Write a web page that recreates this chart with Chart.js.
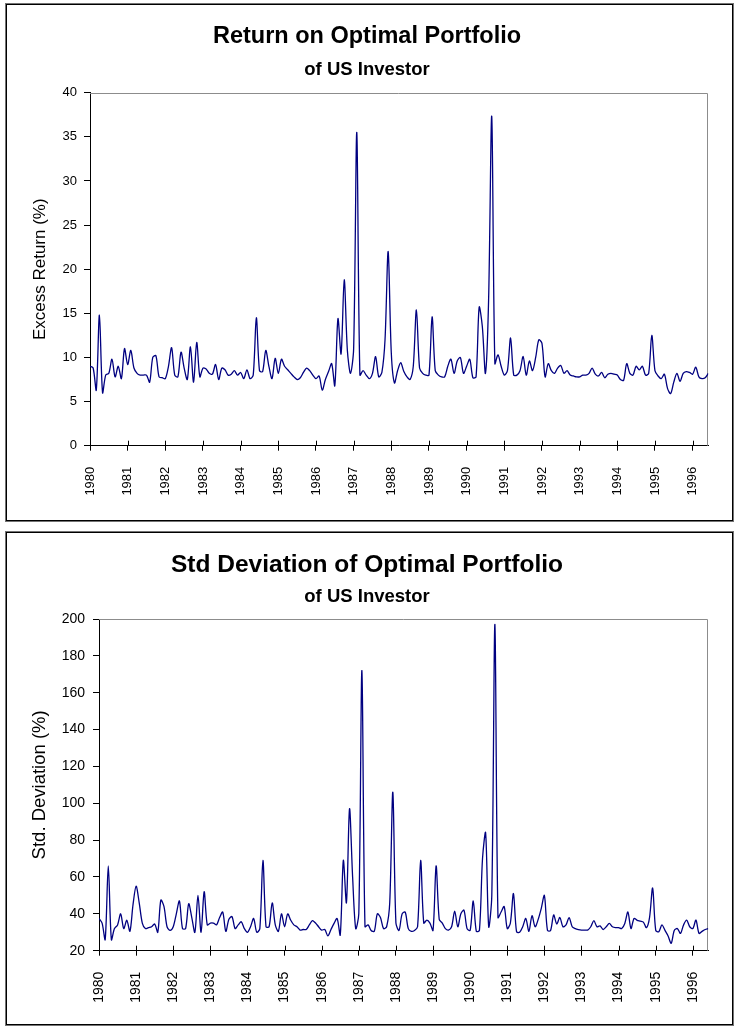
<!DOCTYPE html>
<html>
<head>
<meta charset="utf-8">
<script src="https://cdn.jsdelivr.net/npm/chart.js@4.4.1/dist/chart.umd.min.js"></script>
<style>
  html, body { margin: 0; padding: 0; background: #fff; }
  body { width: 736px; height: 1027px; position: relative; overflow: hidden; }
  .panel { position: absolute; left: 6px; width: 725px; border: 1px solid #000; box-shadow: 0 0 0 1px rgba(0,0,0,0.55); background: #fff; }
  #p1 { top: 4px; height: 515px; }
  #p2 { top: 532px; height: 491px; }
  canvas { display: block; }
</style>
</head>
<body>
<div class="panel" id="p1"><canvas id="c1" width="725" height="515"></canvas></div>
<div class="panel" id="p2"><canvas id="c2" width="725" height="491"></canvas></div>
<script>
// Monthly series, January 1980 onwards
const startYear = 1980;
const monthsPerYear = 12;

// Excess return of the optimal portfolio (%), one row per year
const excessReturn = [
  9.0, 8.8, 6.3, 14.8, 6.0, 8.0, 8.2, 9.8, 7.8, 9.0, 7.6, 11.0,      // 1980
  9.2, 10.8, 8.8, 8.2, 8.0, 8.0, 8.0, 7.2, 10.0, 10.2, 7.8, 7.7,     // 1981
  7.6, 9.0, 11.1, 8.0, 7.8, 10.6, 8.8, 7.5, 11.2, 7.2, 11.7, 7.8,    // 1982
  8.8, 8.7, 8.2, 8.1, 9.2, 7.5, 8.8, 8.6, 8.0, 8.1, 8.5, 8.0,        // 1983
  8.3, 7.6, 8.6, 7.6, 8.0, 14.5, 8.5, 8.4, 10.8, 9.0, 7.6, 9.9,      // 1984
  8.2, 9.8, 9.0, 8.6, 8.2, 7.8, 7.5, 7.7, 8.3, 8.8, 8.5, 8.0,        // 1985
  7.6, 7.9, 6.3, 7.5, 8.4, 9.3, 6.8, 14.4, 10.4, 18.8, 10.8, 8.2,    // 1986
  11.0, 35.5, 8.0, 8.5, 8.0, 7.6, 8.2, 10.1, 7.8, 8.3, 12.0, 22.0,   // 1987
  10.5, 7.1, 8.5, 9.4, 8.4, 7.8, 7.5, 9.0, 15.4, 8.8, 8.2, 8.0,      // 1988
  8.0, 14.6, 8.5, 8.0, 7.8, 7.8, 9.0, 9.8, 8.2, 9.6, 10.0, 8.2,      // 1989
  9.0, 9.8, 7.7, 7.8, 15.7, 13.5, 8.2, 16.5, 37.3, 9.3, 10.3, 9.0,   // 1990
  8.0, 8.5, 12.2, 8.0, 8.0, 8.5, 10.1, 8.0, 9.6, 8.5, 10.0, 12.0,    // 1991
  11.6, 7.8, 9.3, 8.5, 8.2, 8.8, 9.1, 8.2, 8.5, 8.0, 7.9, 7.8,       // 1992
  7.8, 8.0, 8.0, 8.2, 8.8, 8.1, 7.9, 8.3, 7.7, 8.1, 8.2, 8.1,        // 1993
  8.0, 7.5, 7.4, 9.3, 8.2, 8.0, 9.0, 8.6, 9.0, 8.0, 8.2, 12.5,       // 1994
  8.5, 7.9, 7.6, 8.1, 6.5, 5.9, 7.2, 8.2, 7.3, 8.2, 8.4, 8.3,        // 1995
  8.1, 8.9, 7.8, 7.6, 7.7, 8.2                                       // 1996
];

// Standard deviation of the optimal portfolio (%), one row per year
const stdDeviation = [
  37.5, 35, 26, 66, 26, 32, 34, 40, 32, 36.5, 30.5, 45,              // 1980
  55, 46, 35, 32, 32.5, 33, 34.5, 30, 47.5, 44, 33, 31,              // 1981
  33, 40, 47, 32, 32, 45.5, 38, 30, 50, 30, 52, 34,                  // 1982
  35, 35, 34, 38, 41, 30.5, 37, 38.5, 32, 34, 35.7, 32,              // 1983
  30, 33, 37.5, 30, 32, 69, 33, 33, 46, 34, 30.5, 40,                // 1984
  33, 40, 36.5, 34, 33, 31.2, 31.5, 31.5, 34, 36.3, 35, 33,          // 1985
  31.2, 31.5, 28, 31.5, 34.8, 37.5, 28.5, 69, 46, 97, 60, 32,        // 1986
  40, 172, 33, 34, 31, 30.5, 40, 38, 32, 33, 46, 106,                // 1987
  35, 31, 40, 41, 32, 30.5, 31, 33, 69, 35, 36.6, 35,                // 1988
  31, 66, 37, 35, 32, 31.2, 33, 41.5, 33, 40, 42, 32,                // 1989
  31, 47, 30.5, 31, 70, 84, 33, 50, 197, 38, 41, 44,                 // 1990
  32, 35, 51, 30.3, 30, 33, 37.5, 30.5, 39, 33, 37, 43,              // 1991
  50, 31, 31, 39.4, 34.5, 38, 33, 34, 38, 33, 32, 31.5,              // 1992
  31.2, 31.2, 31.2, 33, 36.3, 33, 33.5, 31.5, 33, 34.8, 33, 32.5,    // 1993
  32.5, 32, 34.8, 41, 32, 37.5, 36.5, 36, 35.5, 32.5, 38, 54,        // 1994
  31, 30.3, 34, 31, 28, 24, 31, 32, 29.4, 34, 36.6, 33,              // 1995
  32, 36.6, 29.4, 30.5, 31.5, 32                                     // 1996
];

Chart.defaults.font.family = "'Liberation Sans', Arial, Helvetica, sans-serif";
Chart.defaults.color = '#000';

function toPoints(values) {
  return values.map((v, i) => ({ x: startYear + i / monthsPerYear, y: v }));
}

// Grey plot-area frame (top and right) plus the inner half of the crossing year ticks
const plotFrame = {
  id: 'plotFrame',
  beforeDatasetsDraw(chart) {
    const { ctx, chartArea: a, scales: { x } } = chart;
    ctx.save();
    ctx.lineWidth = 1;
    ctx.strokeStyle = '#8c8c8c';
    ctx.beginPath();
    ctx.moveTo(a.left, Math.round(a.top) + 0.5);
    ctx.lineTo(Math.round(a.right) - 0.5, Math.round(a.top) + 0.5);
    ctx.lineTo(Math.round(a.right) - 0.5, a.bottom);
    ctx.stroke();
    ctx.strokeStyle = '#000';
    ctx.beginPath();
    x.ticks.forEach(t => {
      const px = Math.round(x.getPixelForValue(t.value)) + 0.5;
      ctx.moveTo(px, a.bottom);
      ctx.lineTo(px, a.bottom - 5);
    });
    ctx.stroke();
    ctx.restore();
  }
};

function buildChart(id, cfg) {
  const endYear = startYear + (cfg.values.length - 1) / monthsPerYear;
  return new Chart(document.getElementById(id), {
    type: 'line',
    data: {
      datasets: [{
        data: toPoints(cfg.values),
        borderColor: '#000080',
        borderWidth: 1.3,
        pointRadius: 0,
        tension: 0.3,
        fill: false
      }]
    },
    options: {
      responsive: false,
      animation: false,
      devicePixelRatio: 1,
      layout: { padding: { left: 0, right: 5, top: 0, bottom: 0 } },
      plugins: {
        legend: { display: false },
        tooltip: { enabled: false },
        title: {
          display: true, text: cfg.title, color: '#000',
          font: { size: cfg.titleSize, weight: 'bold' }, padding: cfg.titlePad
        },
        subtitle: {
          display: true, text: cfg.subtitle, color: '#000',
          font: { size: 18.5, weight: 'bold' }, padding: cfg.subPad
        }
      },
      scales: {
        x: {
          type: 'linear',
          min: startYear,
          max: endYear,
          afterFit: s => { s.height = cfg.xHeight; },
          ticks: {
            stepSize: 1, includeBounds: false, autoSkip: false,
            minRotation: 90, maxRotation: 90, padding: 16,
            color: '#000', font: { size: cfg.tickSize },
            callback: v => String(Math.round(v))
          },
          grid: { drawOnChartArea: false, drawTicks: true, tickLength: 5, color: '#000', tickColor: '#000' },
          border: { display: true, color: '#000', width: 1 }
        },
        y: {
          min: cfg.yMin,
          max: cfg.yMax,
          afterFit: s => { s.width = cfg.yWidth; },
          ticks: { stepSize: cfg.yStep, padding: cfg.yTickPad, color: '#000', font: { size: cfg.tickSize } },
          grid: { drawOnChartArea: false, drawTicks: true, tickLength: 6, color: '#000', tickColor: '#000' },
          border: { display: true, color: '#000', width: 1 },
          title: {
            display: true, text: cfg.yTitle, color: '#000',
            font: { size: cfg.yTitleSize }, padding: { top: cfg.yTitlePadTop, bottom: 0 }
          }
        },
        // blank margin on the right of the plot area
        rightMargin: {
          position: 'right',
          display: true,
          afterFit: s => { s.width = cfg.rightMargin; },
          grid: { display: false },
          ticks: { display: false },
          border: { display: false }
        }
      }
    },
    plugins: [plotFrame]
  });
}

buildChart('c1', {
  values: excessReturn,
  title: 'Return on Optimal Portfolio',
  subtitle: 'of US Investor',
  yTitle: 'Excess Return (%)',
  yMin: 0, yMax: 40, yStep: 5,
  yWidth: 83, xHeight: 74.3, rightMargin: 18.7,
  titleSize: 23.5,
  titlePad: { top: 17.9, bottom: 7.8 },
  subPad: { top: 0, bottom: 11.6 },
  tickSize: 13, yTickPad: 7,
  yTitleSize: 17, yTitlePadTop: 22.8
});

buildChart('c2', {
  values: stdDeviation,
  title: 'Std Deviation of Optimal Portfolio',
  subtitle: 'of US Investor',
  yTitle: 'Std. Deviation (%)',
  yMin: 20, yMax: 200, yStep: 20,
  yWidth: 92, xHeight: 73.3, rightMargin: 18.7,
  titleSize: 24.5,
  titlePad: { top: 17.3, bottom: 6.2 },
  subPad: { top: 0, bottom: 10.9 },
  tickSize: 14, yTickPad: 8,
  yTitleSize: 18.5, yTitlePadTop: 21.6
});
</script>
</body>
</html>
